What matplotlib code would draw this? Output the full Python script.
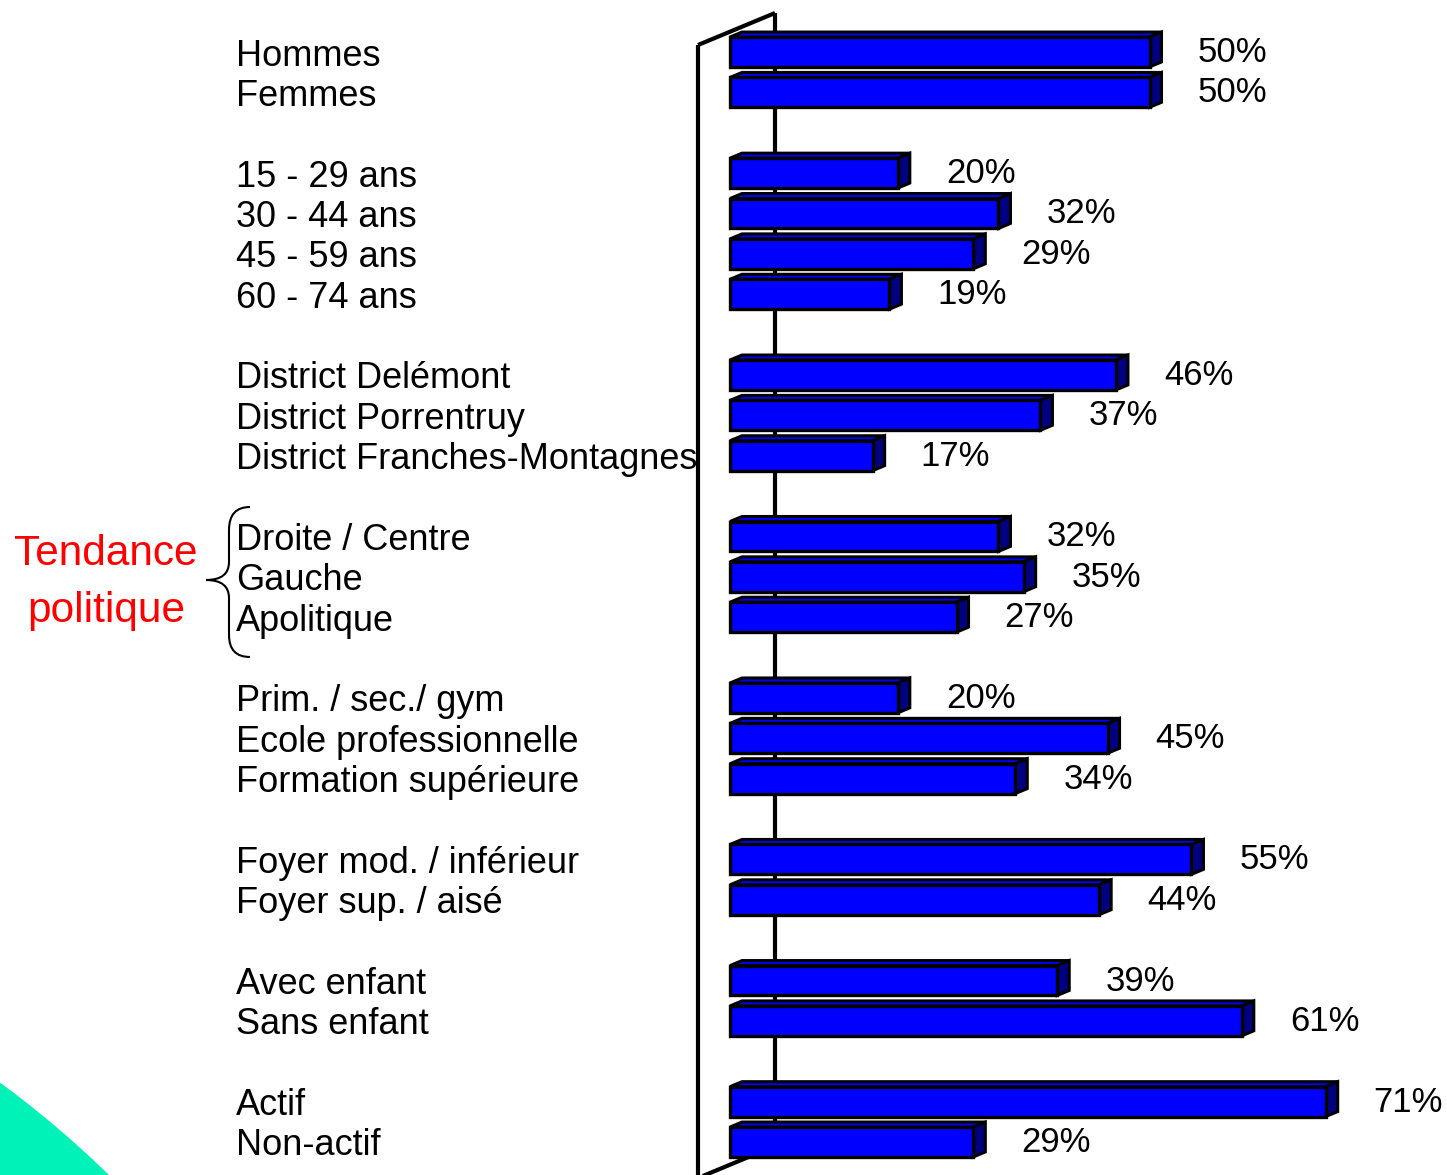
import matplotlib
matplotlib.use('Agg')
import matplotlib.pyplot as plt
import matplotlib.transforms as mtransforms
from matplotlib.patches import Polygon, Circle, PathPatch
from matplotlib.path import Path

plt.rcParams['font.family'] = ['Liberation Sans', 'DejaVu Sans']

# data
labels = ['Hommes', 'Femmes',
          '15 - 29 ans', '30 - 44 ans', '45 - 59 ans', '60 - 74 ans',
          'District Delémont', 'District Porrentruy', 'District Franches-Montagnes',
          'Droite / Centre', 'Gauche', 'Apolitique',
          'Prim. / sec./ gym', 'Ecole professionnelle', 'Formation supérieure',
          'Foyer mod. / inférieur', 'Foyer sup. / aisé',
          'Avec enfant', 'Sans enfant',
          'Actif', 'Non-actif']
values = [50, 50, 20, 32, 29, 19, 46, 37, 17, 32, 35, 27, 20, 45, 34, 55, 44, 39, 61, 71, 29]
group_sizes = [2, 4, 3, 3, 3, 2, 2, 2]

# bar positions: one empty slot between groups
pos = []
p = 0
for g in group_sizes:
    for i in range(g):
        pos.append(p)
        p += 1
    p += 1

W, H = 1447, 1175
fig = plt.figure(figsize=(W / 100, H / 100), dpi=100)

# decoration layer in pixel coords
deco = fig.add_axes([0, 0, 1, 1])
deco.set_xlim(0, W)
deco.set_ylim(H, 0)
deco.axis('off')

# green corner shape
deco.add_patch(Circle((-600, 1900), 1014, color='#00F2B8', lw=0))

# 3d wall
wall = dict(color='black', lw=3, solid_capstyle='butt')
deco.plot([698, 698], [H, 45], **wall)
deco.plot([698, 775], [45, 13], **wall)
deco.plot([775, 775], [13, 1150], **wall)
deco.plot([698, 775], [1178, 1146], **wall)

# brace
verts = [(250, 507), (229, 507), (229, 530), (229, 562), (229, 580), (206, 580),
         (229, 580), (229, 598), (229, 635), (229, 657), (250, 657)]
codes = [Path.MOVETO, Path.CURVE3, Path.CURVE3, Path.LINETO, Path.CURVE3, Path.CURVE3,
         Path.CURVE3, Path.CURVE3, Path.LINETO, Path.CURVE3, Path.CURVE3]
deco.add_patch(PathPatch(Path(verts, codes), fill=False, lw=1.5, color='black'))

deco.text(106, 565, 'Tendance', color='red', fontsize=30.5, ha='center', va='baseline')
deco.text(106, 622, 'politique', color='red', fontsize=30.5, ha='center', va='baseline')

# bar layer
ax = fig.add_axes([0, 0, 1, 1], facecolor='none')
px_pct = 8.39
x0 = 730
slot = 40.37
y0 = 52
ax.set_xlim(-x0 / px_pct, (W - x0) / px_pct)
ax.set_ylim((H - y0) / slot, -y0 / slot)
ax.axis('off')

bh = 0.74
dx = 12 / px_pct
dy = 5 / slot
for y, v in zip(pos, values):
    top = y - bh / 2
    bot = y + bh / 2
    ax.add_patch(Polygon([(0, top), (dx, top - dy), (v + dx, top - dy), (v, top)],
                         closed=True, fc='#0000FF', ec='black', lw=2.2, zorder=2))
    ax.add_patch(Polygon([(v, top), (v + dx, top - dy), (v + dx, bot - dy), (v, bot)],
                         closed=True, fc='#000080', ec='black', lw=2.2, zorder=2))
ax.barh(pos, values, height=bh, left=0, color='#0000FF', edgecolor='black', lw=2.4, zorder=3)

for y, v in zip(pos, values):
    ax.text(v + 48 / px_pct, y + 10 / slot, f'{v}%', fontsize=25, ha='left', va='baseline')

trans = mtransforms.blended_transform_factory(fig.transFigure, ax.transData)
for y, lab in zip(pos, labels):
    ax.text(236 / W, y + 13.5 / slot, lab, fontsize=26, ha='left', va='baseline', transform=trans)

fig.savefig('out.png', dpi=100)
